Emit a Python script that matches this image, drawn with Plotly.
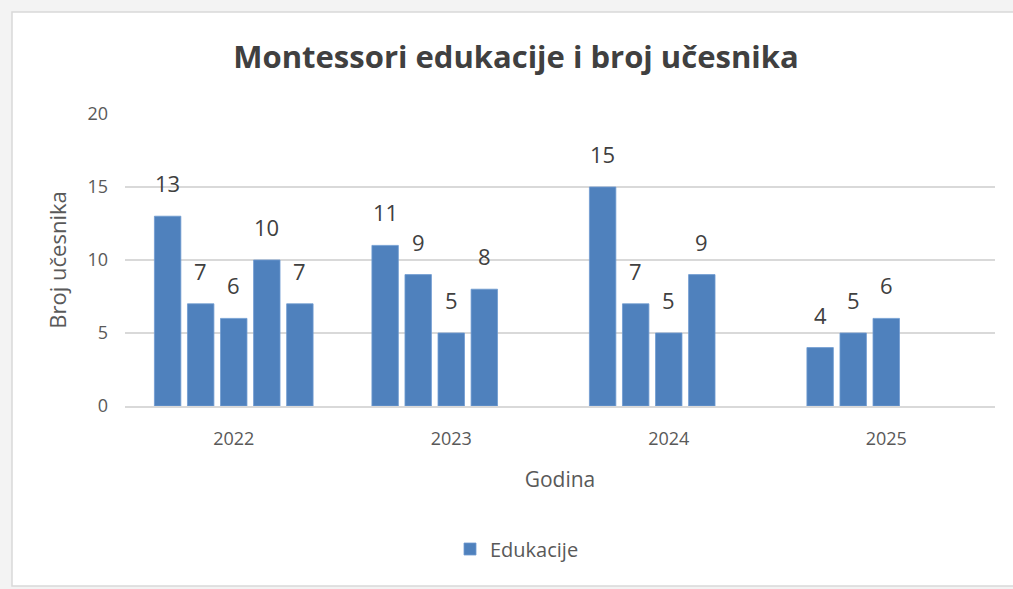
import plotly.graph_objects as go

years = ["2022", "2023", "2024", "2025"]
edu_1 = [13, 11, 15, 4]
edu_2 = [7, 9, 7, 5]
edu_3 = [6, 5, 5, 6]
edu_4 = [10, 8, 9, None]
edu_5 = [7, None, None, None]
series = [edu_1, edu_2, edu_3, edu_4, edu_5]

title_text = "Montessori edukacije i broj učesnika"
x_title = "Godina"
y_title = "Broj učesnika"
legend_name = "Edukacije"

BAR = "#4f81bd"
FONT = "Open Sans"
BARGAP = 0.24
N = len(series)

fig = go.Figure()
for i, vals in enumerate(series):
    fig.add_trace(go.Bar(
        x=years, y=vals, name=legend_name,
        showlegend=(i == 0), legendgroup="edu",
        marker=dict(color=BAR, line=dict(color="#6f9ad0", width=0.8)),
        hoverinfo="x+y",
    ))
    # data labels placed above each bar, using the category axis coordinates
    slot = (1 - BARGAP) / N
    for j, v in enumerate(vals):
        if v is None:
            continue
        fig.add_annotation(
            x=j + (i - (N - 1) / 2) * slot, y=v, xref="x", yref="y",
            text=str(v), showarrow=False, yanchor="bottom", yshift=16,
            font=dict(size=22, color="#404040", family=FONT),
        )

W, H = 1013, 589
L, R, T, B = 125, 18, 114, 183
pw, ph = W - L - R, H - T - B

def px_x(x):
    return (x - L) / pw

def px_y(y):
    return (H - B - y) / ph

fig.add_shape(type="rect", xref="paper", yref="paper",
              x0=px_x(12), x1=px_x(1030), y0=px_y(586), y1=px_y(12),
              fillcolor="white", line=dict(color="#d9d9d9", width=1.5),
              layer="below")

fig.update_layout(
    width=W, height=H,
    margin=dict(l=L, r=R, t=T, b=B),
    paper_bgcolor="#f3f3f3", plot_bgcolor="rgba(0,0,0,0)",
    barmode="group", bargap=BARGAP, bargroupgap=0.2,
    font=dict(family=FONT, color="#595959"),
    title=dict(text="<b>" + title_text + "</b>", x=516 / W, xanchor="center",
               y=1 - 57 / H, yanchor="middle",
               font=dict(size=31, color="#404040", family=FONT)),
    showlegend=True,
    legend=dict(orientation="h", x=px_x(517), xanchor="center",
                y=px_y(549), yanchor="middle",
                font=dict(size=20, color="#595959", family=FONT),
                bgcolor="rgba(0,0,0,0)", itemwidth=30),
    xaxis=dict(
        title=dict(text=x_title, font=dict(size=21, color="#595959"), standoff=23),
        tickfont=dict(size=18, color="#595959"),
        showgrid=False, showline=True, linecolor="#d9d9d9", linewidth=1.5,
        ticks="", fixedrange=True, range=[-0.5, 3.5], ticklabelstandoff=16,
    ),
    yaxis=dict(
        title=dict(text=y_title, font=dict(size=22, color="#595959"), standoff=14),
        range=[0, 20], dtick=5,
        tickfont=dict(size=18, color="#595959"),
        showgrid=True, gridcolor="#d9d9d9", gridwidth=1.5,
        zeroline=False, showline=False, ticks="", ticklabelstandoff=16,
    ),
)

fig.write_html("out.html", config={"displayModeBar": False},
               post_script="document.body.style.margin='0';")
